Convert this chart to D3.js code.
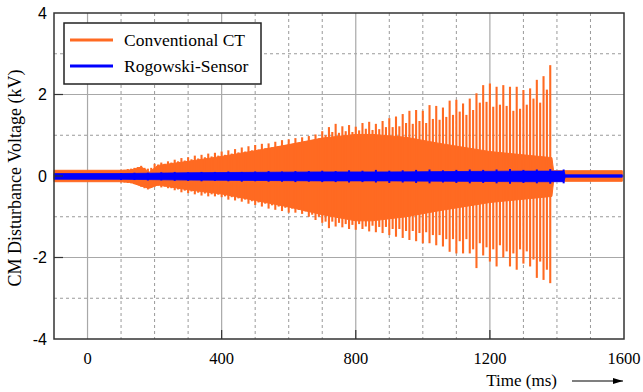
<!DOCTYPE html>
<html>
<head>
<meta charset="utf-8">
<script src="https://cdn.jsdelivr.net/npm/d3@7"></script>
<style>
  body { margin: 0; background: #fff; }
  svg { display: block; }
</style>
</head>
<body>
<svg id="chart" width="643" height="392"></svg>
<script>
// time axis ticks (ms) and voltage ticks (kV)
const xTicks = [0, 400, 800, 1200, 1600];
const yTicks = [-4, -2, 0, 2, 4];

// Conventional CT: main burst peaks, one every 20 ms from 100 ms to 1380 ms
const ctBurstStart = 100, ctBurstStep = 20;
const ctTop = [0.15, 0.17, 0.2, 0.25, 0.18, 0.3, 0.33, 0.36, 0.4, 0.44, 0.46, 0.5, 0.52, 0.55, 0.57, 0.6,
  0.63, 0.66, 0.7, 0.73, 0.76, 0.79, 0.8, 0.84, 0.88, 0.9, 0.93, 0.95, 0.98, 1.02, 1.1, 1.2, 1.28,
  1.22, 1.25, 1.21, 1.3, 1.33, 1.28, 1.35, 1.42, 1.46, 1.52, 1.6, 1.62, 1.6, 1.74, 1.72, 1.68, 1.85,
  1.87, 1.78, 1.9, 2.03, 2.23, 2.27, 2.19, 2.23, 2.19, 2.19, 2.11, 2.15, 2.36, 2.45, 2.72];
const ctBottom = [-0.16, -0.17, -0.2, -0.26, -0.33, -0.26, -0.28, -0.3, -0.35, -0.4, -0.42, -0.45, -0.48,
  -0.5, -0.5, -0.52, -0.58, -0.6, -0.63, -0.68, -0.71, -0.75, -0.8, -0.83, -0.86, -0.9, -0.9, -0.93,
  -1.0, -1.08, -1.15, -1.28, -1.24, -1.26, -1.3, -1.32, -1.3, -1.36, -1.38, -1.4, -1.45, -1.49, -1.52,
  -1.57, -1.6, -1.65, -1.65, -1.7, -1.73, -1.86, -1.9, -1.9, -1.9, -2.26, -1.95, -2.1, -2.22, -2.0,
  -2.22, -2.3, -2.15, -2.22, -2.5, -2.55, -2.63];

// Conventional CT: secondary peaks in between (110 ms to 1370 ms)
const ctMinorStart = 110;
const ctMinorTop = [0.15, 0.18, 0.22, 0.2, 0.2, 0.28, 0.3, 0.33, 0.36, 0.38, 0.41, 0.43, 0.46, 0.48, 0.5,
  0.52, 0.55, 0.58, 0.6, 0.63, 0.65, 0.68, 0.7, 0.73, 0.76, 0.78, 0.8, 0.83, 0.87, 0.92, 1.0, 1.08,
  1.06, 1.1, 1.08, 1.12, 1.16, 1.13, 1.15, 1.2, 1.2, 1.22, 1.3, 1.28, 1.35, 1.3, 1.4, 1.38, 1.45, 1.5,
  1.58, 1.5, 1.62, 1.8, 1.82, 1.7, 1.75, 1.72, 1.6, 1.65, 1.75, 1.9, 1.8, 2.12];
const ctMinorBottom = [-0.16, -0.18, -0.22, -0.3, -0.28, -0.24, -0.26, -0.3, -0.33, -0.36, -0.38, -0.41,
  -0.43, -0.45, -0.46, -0.5, -0.52, -0.55, -0.58, -0.62, -0.65, -0.68, -0.72, -0.75, -0.78, -0.8, -0.83,
  -0.87, -0.95, -1.0, -1.12, -1.12, -1.15, -1.18, -1.2, -1.18, -1.24, -1.22, -1.25, -1.25, -1.3, -1.3,
  -1.35, -1.35, -1.4, -1.38, -1.45, -1.45, -1.55, -1.55, -1.6, -1.55, -1.8, -1.65, -1.75, -1.8, -1.7,
  -1.85, -1.9, -1.8, -1.85, -2.05, -2.1, -2.3];

// Conventional CT: solid envelope of the continuous oscillation
const ctBandTime = [-100, 100, 130, 160, 185, 210, 300, 400, 500, 600, 700, 800, 850, 950, 1050, 1200, 1385, 1390, 1595];
const ctBandTop = [0.14, 0.14, 0.15, 0.22, 0.1, 0.26, 0.36, 0.48, 0.62, 0.77, 0.93, 1.02, 1.02, 0.95, 0.8, 0.6, 0.45, 0.13, 0.13];
const ctBandBottom = [-0.14, -0.14, -0.16, -0.25, -0.3, -0.22, -0.34, -0.44, -0.6, -0.76, -0.95, -1.1, -1.1, -1.0, -0.85, -0.65, -0.5, -0.13, -0.13];

// Rogowski sensor: core band and ripple peaks (every 40 ms from 100 ms)
const rgTime = [-100, 100, 300, 500, 700, 900, 1100, 1300, 1420, 1425, 1595];
const rgTop = [0.06, 0.06, 0.08, 0.09, 0.1, 0.1, 0.11, 0.12, 0.12, 0.03, 0.03];
const rgBottom = [-0.08, -0.08, -0.1, -0.11, -0.12, -0.12, -0.13, -0.14, -0.14, -0.03, -0.03];
const rgPeakStart = 100, rgPeakStep = 40;
const rgPeakTop = [0.07, 0.08, 0.08, 0.09, 0.1, 0.09, 0.1, 0.1, 0.11, 0.1, 0.11, 0.12, 0.11, 0.12, 0.12,
  0.13, 0.12, 0.14, 0.13, 0.15, 0.13, 0.14, 0.15, 0.16, 0.14, 0.15, 0.16, 0.15, 0.16, 0.17, 0.15, 0.16, 0.17, 0.16];
const rgPeakBottom = [-0.1, -0.1, -0.11, -0.11, -0.12, -0.12, -0.13, -0.12, -0.13, -0.14, -0.13, -0.14,
  -0.14, -0.15, -0.14, -0.15, -0.15, -0.16, -0.15, -0.16, -0.17, -0.16, -0.17, -0.18, -0.16, -0.17,
  -0.18, -0.17, -0.18, -0.19, -0.17, -0.18, -0.19, -0.18];

const orange = "#ff6a22", blue = "#0000ff";
const serif = "Liberation Serif, Times New Roman, serif";

const svg = d3.select("#chart");
const margin = { top: 13, right: 19, bottom: 53, left: 54 };
const width = 643 - margin.left - margin.right,
  height = 392 - margin.top - margin.bottom;

const x = d3.scaleLinear().domain([-100, 1600]).range([0, width]);
const y = d3.scaleLinear().domain([-4, 4]).range([height, 0]);

const g = svg.append("g").attr("transform", "translate(" + margin.left + "," + margin.top + ")");

// grid: dashed every 100 ms / 1 kV, solid at labelled ticks
const minorX = d3.range(0, 1600, 100).filter(d => xTicks.indexOf(d) === -1);
const minorY = [-3, -1, 1, 3];
g.append("g").selectAll("line").data(minorX).enter().append("line")
  .attr("x1", d => x(d)).attr("x2", d => x(d)).attr("y1", 0).attr("y2", height)
  .attr("stroke", "#9a9a9a").attr("stroke-dasharray", "3,3").attr("stroke-width", 1);
g.append("g").selectAll("line").data(minorY).enter().append("line")
  .attr("y1", d => y(d)).attr("y2", d => y(d)).attr("x1", 0).attr("x2", width)
  .attr("stroke", "#9a9a9a").attr("stroke-dasharray", "3,3").attr("stroke-width", 1);
g.append("g").selectAll("line").data(xTicks.slice(0, -1)).enter().append("line")
  .attr("x1", d => x(d)).attr("x2", d => x(d)).attr("y1", 0).attr("y2", height)
  .attr("stroke", "#a8a8a8").attr("stroke-width", 1.2);
g.append("g").selectAll("line").data([-2, 0, 2]).enter().append("line")
  .attr("y1", d => y(d)).attr("y2", d => y(d)).attr("x1", 0).attr("x2", width)
  .attr("stroke", "#a8a8a8").attr("stroke-width", 1.2);

// Conventional CT
const bandData = ctBandTime.map((t, i) => ({ t: t, hi: ctBandTop[i], lo: ctBandBottom[i] }));
g.append("path").datum(bandData)
  .attr("fill", orange).attr("stroke", orange).attr("stroke-width", 1)
  .attr("d", d3.area().x(d => x(d.t)).y0(d => y(d.lo)).y1(d => y(d.hi)));

const bursts = ctTop.map((v, i) => ({ t: ctBurstStart + i * ctBurstStep, hi: v, lo: ctBottom[i] }))
  .concat(ctMinorTop.map((v, i) => ({ t: ctMinorStart + i * ctBurstStep, hi: v, lo: ctMinorBottom[i] })));
g.append("g").selectAll("line").data(bursts).enter().append("line")
  .attr("x1", d => x(d.t)).attr("x2", d => x(d.t))
  .attr("y1", d => y(d.hi)).attr("y2", d => y(d.lo))
  .attr("stroke", orange).attr("stroke-width", 2.1);

// Rogowski sensor
const rgData = rgTime.map((t, i) => ({ t: t, hi: rgTop[i], lo: rgBottom[i] }));
g.append("path").datum(rgData)
  .attr("fill", blue).attr("stroke", blue).attr("stroke-width", 0.8)
  .attr("d", d3.area().x(d => x(d.t)).y0(d => y(d.lo)).y1(d => y(d.hi)));
const rgPeaks = rgPeakTop.map((v, i) => ({ t: rgPeakStart + i * rgPeakStep, hi: v, lo: rgPeakBottom[i] }));
g.append("g").selectAll("line").data(rgPeaks).enter().append("line")
  .attr("x1", d => x(d.t)).attr("x2", d => x(d.t))
  .attr("y1", d => y(d.hi)).attr("y2", d => y(d.lo))
  .attr("stroke", blue).attr("stroke-width", 2);

// frame
g.append("rect").attr("width", width).attr("height", height)
  .attr("fill", "none").attr("stroke", "#333").attr("stroke-width", 1.5);

// inward tick marks
g.append("g").selectAll("line").data(xTicks.slice(1, -1)).enter().append("line")
  .attr("x1", d => x(d)).attr("x2", d => x(d)).attr("y1", height).attr("y2", height - 9)
  .attr("stroke", "#333").attr("stroke-width", 1.2);
g.append("g").selectAll("line").data(yTicks.slice(1, -1)).enter().append("line")
  .attr("y1", d => y(d)).attr("y2", d => y(d)).attr("x1", 0).attr("x2", 9)
  .attr("stroke", "#333").attr("stroke-width", 1.2);

// tick labels
g.append("g").selectAll("text").data(yTicks).enter().append("text")
  .attr("x", -7).attr("y", d => y(d)).attr("dy", "0.36em")
  .attr("text-anchor", "end")
  .style("font-family", "Liberation Sans, Arial, sans-serif").style("font-size", "16px")
  .text(d => d);
g.append("g").selectAll("text").data(xTicks).enter().append("text")
  .attr("x", d => x(d)).attr("y", height + 25)
  .attr("text-anchor", "middle")
  .style("font-family", serif).style("font-size", "16.5px")
  .text(d => d);

// axis titles
svg.append("text")
  .attr("transform", "translate(21," + (margin.top + height / 2 + 2) + ") rotate(-90)")
  .attr("text-anchor", "middle")
  .style("font-family", serif).style("font-size", "18px")
  .text("CM Disturbance Voltage (kV)");
svg.append("text")
  .attr("x", 557).attr("y", 386).attr("text-anchor", "end")
  .style("font-family", serif).style("font-size", "17px")
  .text("Time (ms)");
svg.append("defs").append("marker")
  .attr("id", "arrow").attr("viewBox", "0 0 10 6").attr("refX", 10).attr("refY", 3)
  .attr("markerWidth", 10).attr("markerHeight", 6).attr("markerUnits", "userSpaceOnUse")
  .attr("orient", "auto")
  .append("path").attr("d", "M0,0L10,3L0,6Z").attr("fill", "#000");
svg.append("line").attr("x1", 572).attr("x2", 623).attr("y1", 381).attr("y2", 381)
  .attr("stroke", "#000").attr("stroke-width", 1.2).attr("marker-end", "url(#arrow)");

// legend
const legend = svg.append("g").attr("transform", "translate(64,23)");
legend.append("rect").attr("width", 197).attr("height", 61)
  .attr("fill", "#fff").attr("stroke", "#222").attr("stroke-width", 1.5);
const items = [{ name: "Conventional CT", color: orange }, { name: "Rogowski-Sensor", color: blue }];
const li = legend.selectAll("g.item").data(items).enter().append("g")
  .attr("transform", (d, i) => "translate(0," + (17 + i * 26) + ")");
li.append("line").attr("x1", 6).attr("x2", 49).attr("y1", 0).attr("y2", 0)
  .attr("stroke", d => d.color).attr("stroke-width", 3);
li.append("text").attr("x", 60).attr("dy", "0.33em")
  .style("font-family", serif).style("font-size", "17.5px")
  .text(d => d.name);
</script>
</body>
</html>
